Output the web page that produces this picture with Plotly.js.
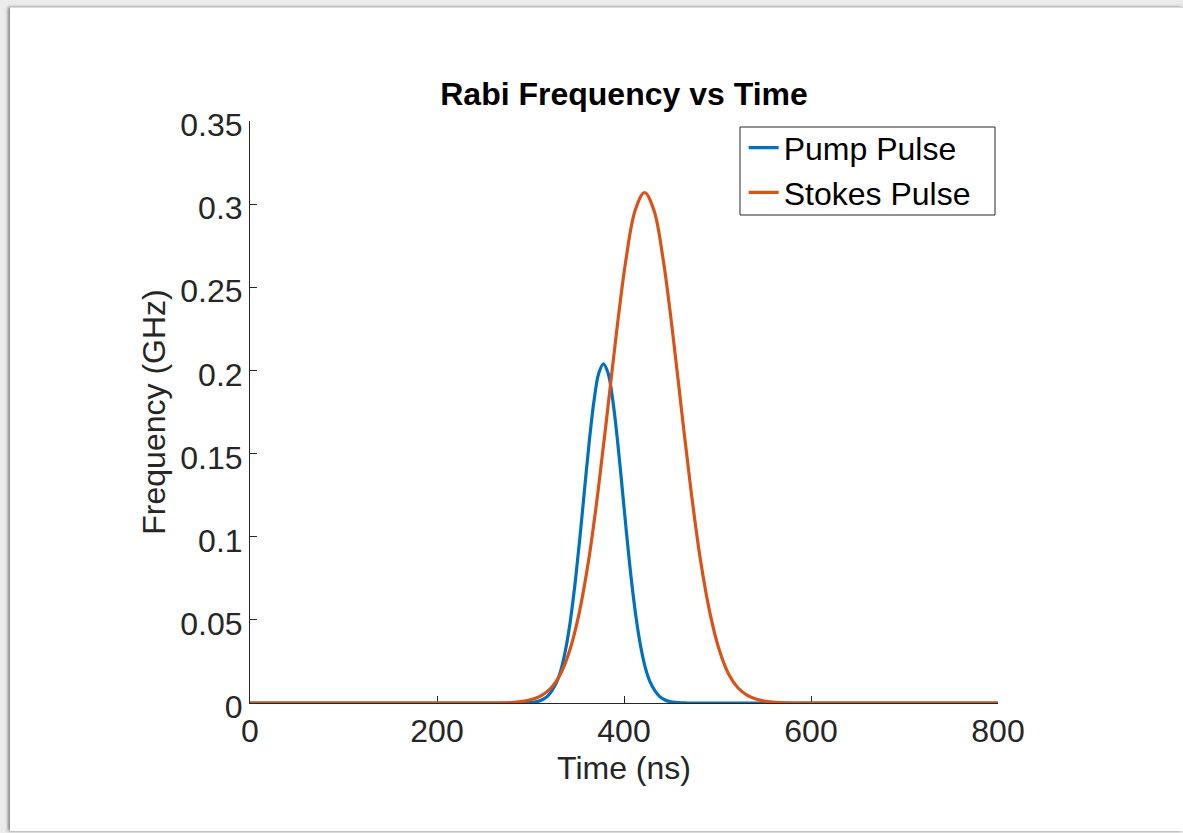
<!DOCTYPE html>
<html>
<head>
<meta charset="utf-8">
<script src="https://cdn.plot.ly/plotly-3.0.1.min.js"></script>
<style>
  html, body { margin: 0; padding: 0; width: 1183px; height: 833px; overflow: hidden; background: #ececec; }
  #frame { position: absolute; left: 10px; top: 7px; width: 1173px; height: 823px; background: #ffffff;
           box-shadow: -2px 0 3px rgba(0,0,0,0.45); border-top: 1px solid #dadada; }
  #chart { position: absolute; left: 0; top: 0; width: 1173px; height: 823px; }
</style>
</head>
<body>
<div id="frame"><div id="chart"></div></div>
<script>
// Pump pulse (ns, GHz)
const pumpTime = [0, 288, 298, 308, 313, 318, 323, 328, 333, 338, 343, 348, 353, 358, 363, 368, 373, 378,
                  383, 388, 393, 398, 403, 408, 413, 418, 423, 428, 433, 438, 443, 448, 458, 468, 800];
const pumpValues = [0, 0, 0.0002, 0.0010, 0.0021, 0.0040, 0.0075, 0.0125, 0.0208, 0.0335, 0.0510, 0.0735, 0.1004,
                    0.1296, 0.1581, 0.1821, 0.1983, 0.2040,
                    0.1983, 0.1821, 0.1581, 0.1296, 0.1004, 0.0735, 0.0510, 0.0335, 0.0208, 0.0125, 0.0075,
                    0.0040, 0.0021, 0.0010, 0.0002, 0, 0];

// Stokes pulse (ns, GHz)
const stokesTime = [0, 262, 272, 282, 292, 302, 312, 322, 332, 342, 352, 362, 372, 382, 392, 402, 412, 422,
                    432, 442, 452, 462, 472, 482, 492, 502, 512, 522, 532, 542, 552, 562, 572, 582, 800];
const stokesValues = [0, 0, 0.0001, 0.0004, 0.0010, 0.0022, 0.0046, 0.0090, 0.0173, 0.0317, 0.0539, 0.0852,
                      0.1262, 0.1739, 0.2229, 0.2663, 0.2963, 0.3070,
                      0.2963, 0.2663, 0.2229, 0.1739, 0.1262, 0.0852, 0.0539, 0.0317, 0.0173, 0.0090, 0.0046,
                      0.0022, 0.0010, 0.0004, 0.0001, 0, 0];

const seriesNames = ["Pump Pulse", "Stokes Pulse"];
const xTickVals = [0, 200, 400, 600, 800];
const xTickText = ["0", "200", "400", "600", "800"];
const yTickVals = [0, 0.05, 0.1, 0.15, 0.2, 0.25, 0.3, 0.35];
const yTickText = ["0", "0.05", "0.1", "0.15", "0.2", "0.25", "0.3", "0.35"];

const FONT = "'Liberation Sans', Arial, Helvetica, sans-serif";
const AX = "#262626";

const traces = [
  { x: pumpTime, y: pumpValues, name: seriesNames[0], type: "scatter", mode: "lines",
    line: { color: "#0072BD", width: 3.2, shape: "spline", smoothing: 1 }, cliponaxis: false },
  { x: stokesTime, y: stokesValues, name: seriesNames[1], type: "scatter", mode: "lines",
    line: { color: "#D95319", width: 3.2, shape: "spline", smoothing: 1 }, cliponaxis: false }
];

const axisCommon = {
  showgrid: false, zeroline: false, showline: true, linecolor: AX, linewidth: 1,
  ticks: "inside", ticklen: 7, tickwidth: 1, tickcolor: AX, layer: "below traces",
  tickfont: { family: FONT, size: 32, color: AX }, fixedrange: true
};

const layout = {
  width: 1173, height: 823,
  margin: { l: 240, r: 185, t: 113, b: 128, pad: 0 },
  paper_bgcolor: "rgba(0,0,0,0)", plot_bgcolor: "#ffffff",
  font: { family: FONT, color: AX },
  showlegend: true,
  title: { text: "<b>Rabi Frequency vs Time</b>", font: { family: FONT, size: 32, color: "#000000" },
           x: 0.5, xref: "paper", xanchor: "center", y: 1 - 86 / 823, yref: "container", yanchor: "middle" },
  xaxis: Object.assign({}, axisCommon, {
    range: [0, 800], tickmode: "array", tickvals: xTickVals, ticktext: xTickText,
    title: { text: "Time (ns)", font: { family: FONT, size: 32, color: AX }, standoff: 8 }
  }),
  yaxis: Object.assign({}, axisCommon, {
    range: [0, 0.35], tickmode: "array", tickvals: yTickVals, ticktext: yTickText, ticklabelshift: 4,
    title: { text: "Frequency (GHz)", font: { family: FONT, size: 32, color: AX }, standoff: 5 }
  }),
  legend: {
    x: 0.660, xanchor: "left", y: 1.001, yanchor: "top",
    bgcolor: "rgba(0,0,0,0)", borderwidth: 0,
    font: { family: FONT, size: 32, color: "#000000" }
  },
  shapes: [
    { type: "rect", xref: "paper", yref: "paper",
      x0: (740 - 250) / 748, x1: (995 - 250) / 748,
      y0: (702 - 214) / 582, y1: (702 - 126) / 582,
      line: { color: AX, width: 1 }, fillcolor: "#ffffff", layer: "above" }
  ]
};

Plotly.newPlot("chart", traces, layout, { displayModeBar: false, staticPlot: true });
</script>
</body>
</html>
